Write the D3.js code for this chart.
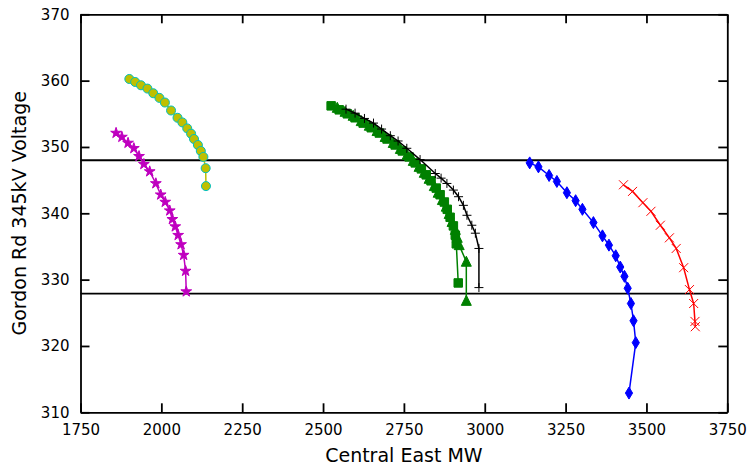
<!DOCTYPE html>
<html><head><meta charset="utf-8">
<script src="https://cdn.jsdelivr.net/npm/d3@7"></script>
<style>body{margin:0;background:#fff}svg{display:block}text{font-family:"DejaVu Sans",sans-serif}</style>
</head><body>
<script>
const xTicks=[1750,2000,2250,2500,2750,3000,3250,3500,3750];
const yTicks=[310,320,330,340,350,360,370];
const limitLines=[348.0,327.9];

const yelX=[1901,1919,1937,1957,1975,1994,2011,2030,2050,2065,2080,2092,2101,2113,2122,2130,2137,2138];
const yelY=[360.25,359.8,359.3,358.8,358.1,357.4,356.7,355.5,354.4,353.7,352.8,352.0,351.2,350.3,349.4,348.5,346.8,344.1];

const magX=[1860,1878,1897,1915,1931,1946,1964,1983,1998,2012,2026,2034,2043,2052,2061,2069,2075,2077];
const magY=[352.1,351.5,350.6,349.8,348.6,347.4,346.3,344.5,342.8,341.7,340.4,339.1,338.0,336.7,335.3,333.7,331.3,328.2];

const sqX=[2525,2550,2575,2599,2624,2649,2674,2698,2723,2745,2766,2785,2804,2819,2834,2850,2862,2875,2884,2893,2903,2909,2912,2918];
const sqY=[356.2,355.6,355.0,354.4,353.6,352.9,352.1,351.2,350.3,349.4,348.5,347.6,346.7,345.8,344.9,343.8,342.8,341.7,340.6,339.4,338.1,336.7,335.4,329.5];

const triX=[2544,2568,2593,2618,2643,2667,2692,2717,2739,2760,2779,2797,2813,2828,2844,2856,2869,2881,2890,2899,2909,2915,2921,2943,2943];
const triY=[355.9,355.3,354.7,353.9,353.2,352.4,351.5,350.6,349.7,348.8,347.9,347.0,346.1,345.2,344.1,343.1,342.0,341.0,339.9,338.7,337.5,336.3,335.2,332.7,326.8];

const plusX=[2571,2599,2628,2656,2681,2708,2732,2759,2800,2847,2865,2883,2903,2919,2934,2945,2960,2971,2982,2982];
const plusY=[355.7,355.1,354.3,353.6,352.7,351.7,350.9,349.8,348.1,346.0,345.3,344.5,343.5,342.5,341.2,339.7,338.2,337.0,334.7,328.8];

const bluX=[3139,3166,3199,3223,3254,3281,3302,3336,3364,3384,3405,3419,3432,3442,3452,3460,3467,3446];
const bluY=[347.6,347.0,345.7,344.8,343.1,341.9,340.6,338.6,336.6,335.2,333.6,331.9,330.5,328.7,326.4,323.8,320.5,312.9];

const redX=[3429,3457,3489,3514,3543,3571,3592,3615,3633,3646,3650,3651];
const redY=[344.3,343.3,341.6,340.3,338.2,336.3,334.7,331.8,328.5,326.4,323.7,322.9];

const W=750,H=470;
const m={l:80.5,r:750-727.3,t:14.3,b:470-412.3};
const svg=d3.select("body").append("svg").attr("width",W).attr("height",H);
const x=d3.scaleLinear().domain([1750,3750]).range([m.l,W-m.r]);
const y=d3.scaleLinear().domain([310,370]).range([H-m.b,m.t]);

const g=svg.append("g");
const zip=(a,b)=>a.map((v,i)=>[v,b[i]]);
const line=d3.line().x(d=>x(d[0])).y(d=>y(d[1]));

limitLines.forEach(v=>{
  g.append("line").attr("x1",x(1750)).attr("x2",x(3750)).attr("y1",y(v)).attr("y2",y(v))
   .attr("stroke","#000").attr("stroke-width",1.8);
});

function series(xs,ys,color,markerFn){
  const pts=zip(xs,ys);
  g.append("path").datum(pts).attr("d",line).attr("fill","none").attr("stroke",color).attr("stroke-width",1.5);
  const mg=g.append("g");
  pts.forEach(p=>markerFn(mg,x(p[0]),y(p[1])));
}
const sym=(type,size,fill,stroke,sw)=>(sel,cx,cy)=>{
  sel.append("path").attr("d",d3.symbol().type(type).size(size)()).attr("transform",`translate(${cx},${cy})`)
    .attr("fill",fill).attr("stroke",stroke).attr("stroke-width",sw);
};
const diamond=(sel,cx,cy)=>{
  sel.append("path").attr("d","M0,-6L3.6,0L0,6L-3.6,0Z").attr("transform",`translate(${cx},${cy})`)
   .attr("fill","#0000ff").attr("stroke","#0000ff").attr("stroke-width",1);
};
const plus=(sel,cx,cy)=>{
  sel.append("path").attr("d","M-4.5,0H4.5M0,-4.5V4.5").attr("transform",`translate(${cx},${cy})`)
   .attr("stroke","#000").attr("stroke-width",1);
};
const xmark=(sel,cx,cy)=>{
  sel.append("path").attr("d","M-4.5,-4.5L4.5,4.5M-4.5,4.5L4.5,-4.5").attr("transform",`translate(${cx},${cy})`)
   .attr("stroke","#ff0000").attr("stroke-width",1);
};
const tri=(sel,cx,cy)=>{
  sel.append("path").attr("d","M0,-5.5L5,4.5L-5,4.5Z").attr("transform",`translate(${cx},${cy})`)
   .attr("fill","#008000").attr("stroke","#008000").attr("stroke-width",1);
};

series(magX,magY,"#bf00bf",sym(d3.symbolStar,36,"#bf00bf","#bf00bf",1));
series(yelX,yelY,"#bfbf00",sym(d3.symbolCircle,64,"#bfbf00","#00bfbf",1));
series(sqX,sqY,"#008000",sym(d3.symbolSquare,72,"#008000","#008000",1));
series(triX,triY,"#008000",tri);
series(plusX,plusY,"#000000",plus);
series(bluX,bluY,"#0000ff",diamond);
series(redX,redY,"#ff0000",xmark);

const ax=svg.append("g");
const tl=9;
ax.append("g").attr("transform",`translate(0,${H-m.b})`).call(d3.axisBottom(x).tickValues(xTicks).tickFormat(d3.format("d")).tickSizeInner(-tl).tickSizeOuter(0).tickPadding(12));
ax.append("g").attr("transform",`translate(0,${m.t})`).call(d3.axisTop(x).tickValues(xTicks).tickFormat("").tickSizeInner(-tl).tickSizeOuter(0));
ax.append("g").attr("transform",`translate(${m.l},0)`).call(d3.axisLeft(y).tickValues(yTicks).tickFormat(d3.format("d")).tickSizeInner(-tl).tickSizeOuter(0).tickPadding(11));
ax.append("g").attr("transform",`translate(${W-m.r},0)`).call(d3.axisRight(y).tickValues(yTicks).tickFormat("").tickSizeInner(-tl).tickSizeOuter(0));
ax.selectAll(".domain").attr("stroke","#000").attr("stroke-width",1.8);
ax.selectAll(".tick line").attr("stroke","#000").attr("stroke-width",1.8);
ax.selectAll(".tick text").attr("font-size",15).attr("fill","#000").style("font-family","DejaVu Sans");

svg.append("text").attr("x",(m.l+W-m.r)/2).attr("y",462).attr("text-anchor","middle").attr("font-size",19).text("Central East MW");
svg.append("text").attr("transform",`translate(26,${(m.t+H-m.b)/2}) rotate(-90)`).attr("text-anchor","middle").attr("font-size",19).text("Gordon Rd 345kV Voltage");
</script>
</body></html>
